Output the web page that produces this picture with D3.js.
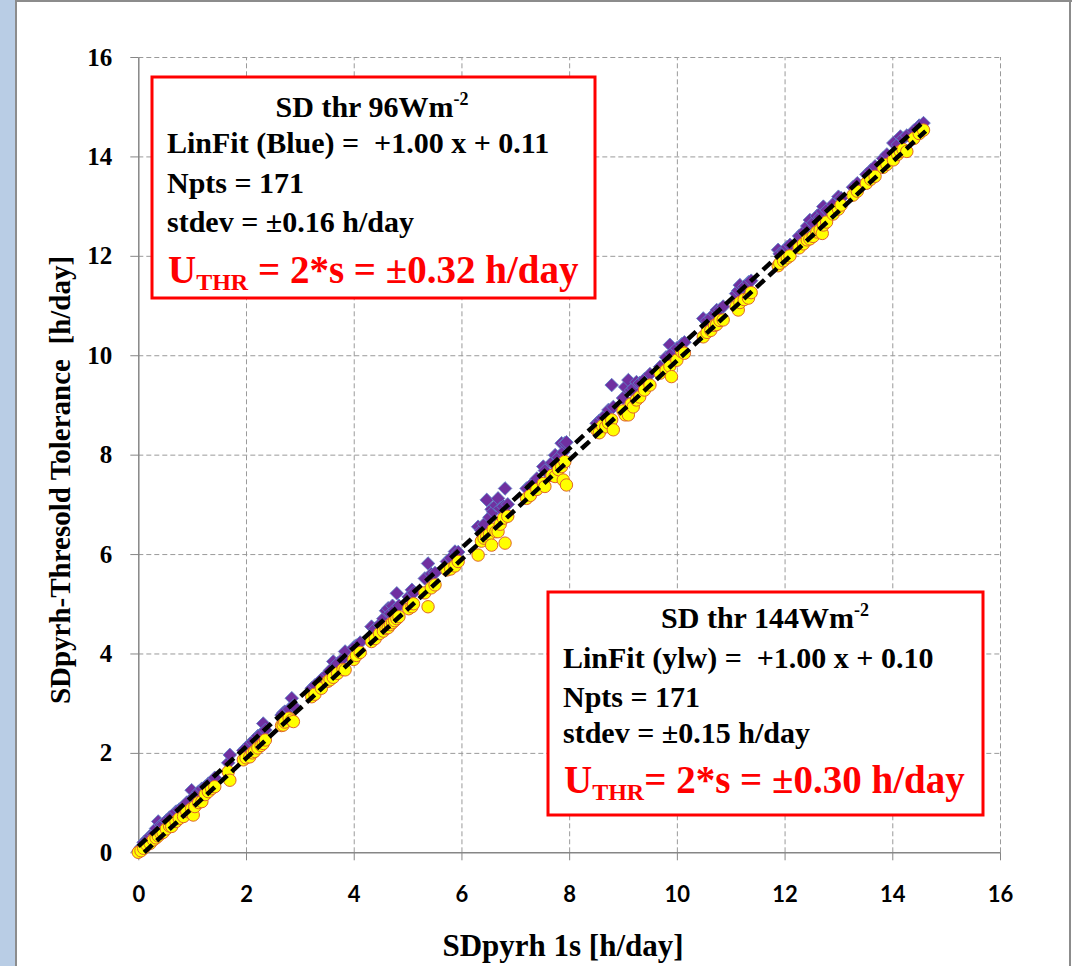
<!DOCTYPE html>
<html>
<head>
<meta charset="utf-8">
<script src="https://cdn.jsdelivr.net/npm/d3@7"></script>
<style>
  body { margin: 0; background: #fff; }
  svg text { white-space: pre; }
  .serif { font-family: "Palatino Linotype", "Book Antiqua", "Liberation Serif", serif; font-weight: bold; }
  .sans { font-family: Lato, "Open Sans", sans-serif; font-weight: bold; }
</style>
</head>
<body>
<div id="chart"></div>
<script>
// x = SDpyrh 1s [h/day], shared by both series
const xVals = [0.00, 0.05, 0.10, 0.16, 0.22, 0.28, 0.33, 0.37, 0.42, 0.46, 0.52, 0.58, 0.62, 0.70, 0.76,
  0.84, 0.90, 0.99, 1.02, 1.05, 1.12, 1.18, 1.24, 1.30, 1.36, 1.42, 1.67, 1.70, 1.95, 2.00,
  2.07, 2.12, 2.16, 2.22, 2.28, 2.32, 2.36, 2.66, 2.69, 2.72, 2.80, 2.85, 2.88, 3.22, 3.28,
  3.40, 3.52, 3.56, 3.62, 3.70, 3.80, 3.84, 4.00, 4.05, 4.12, 4.33, 4.40, 4.48, 4.55, 4.60,
  4.64, 4.68, 4.72, 4.76, 4.80, 4.84, 5.02, 5.08, 5.11, 5.32, 5.38, 5.44, 5.51, 5.73, 5.80,
  5.88, 5.94, 6.31, 6.37, 6.42, 6.47, 6.52, 6.56, 6.59, 6.64, 6.68, 6.72, 6.78, 6.81, 6.86,
  7.21, 7.28, 7.40, 7.52, 7.55, 7.68, 7.74, 7.80, 7.86, 7.89, 7.92, 7.95, 8.51, 8.56, 8.62,
  8.68, 8.73, 8.79, 8.82, 9.00, 9.04, 9.10, 9.15, 9.19, 9.25, 9.31, 9.40, 9.50, 9.69, 9.80,
  9.87, 9.90, 10.00, 10.09, 10.14, 10.49, 10.56, 10.63, 10.70, 10.74, 10.80, 10.86, 11.10, 11.14, 11.17,
  11.25, 11.33, 11.38, 11.88, 11.91, 11.98, 12.05, 12.10, 12.27, 12.35, 12.42, 12.47, 12.53, 12.60, 12.66,
  12.70, 12.72, 12.78, 12.90, 13.00, 13.05, 13.27, 13.35, 13.52, 13.60, 13.68, 13.83, 13.90, 14.02, 14.10,
  14.15, 14.20, 14.27, 14.40, 14.50, 14.58];

// SD thr 96 Wm-2 (blue diamonds)
const blueVals = [0.02, 0.10, 0.20, 0.24, 0.33, 0.36, 0.48, 0.62, 0.55, 0.56, 0.64, 0.70, 0.72, 0.82, 0.86,
  0.93, 1.00, 1.25, 1.10, 1.14, 1.22, 1.28, 1.32, 1.38, 1.42, 1.50, 1.80, 1.96, 2.05, 2.10,
  2.18, 2.22, 2.27, 2.34, 2.38, 2.59, 2.46, 2.76, 2.80, 2.83, 2.88, 3.10, 2.95, 3.30, 3.36,
  3.48, 3.60, 3.66, 3.84, 3.80, 3.90, 4.04, 4.12, 4.16, 4.22, 4.54, 4.50, 4.58, 4.70, 4.86,
  4.91, 4.80, 4.96, 4.88, 5.21, 4.96, 5.14, 5.28, 5.22, 5.51, 5.81, 5.60, 5.62, 5.85, 5.92,
  6.05, 6.04, 6.55, 6.48, 6.60, 7.09, 6.74, 6.90, 6.85, 6.98, 7.12, 6.92, 6.96, 7.32, 7.00,
  7.32, 7.38, 7.52, 7.76, 7.68, 7.84, 7.99, 7.94, 8.23, 8.05, 8.23, 8.25, 8.63, 8.68, 8.74,
  8.80, 8.90, 9.40, 8.96, 9.14, 9.36, 9.50, 9.30, 9.34, 9.46, 9.44, 9.52, 9.62, 9.77, 9.96,
  10.21, 10.04, 10.14, 10.22, 10.26, 10.74, 10.70, 10.76, 10.84, 10.91, 10.92, 10.98, 11.24, 11.30, 11.41,
  11.38, 11.47, 11.50, 12.12, 12.04, 12.08, 12.18, 12.22, 12.40, 12.48, 12.60, 12.72, 12.66, 12.80, 12.78,
  12.90, 12.99, 12.92, 13.04, 13.19, 13.16, 13.38, 13.46, 13.64, 13.72, 13.80, 13.96, 14.04, 14.27, 14.24,
  14.40, 14.36, 14.42, 14.52, 14.62, 14.67];

// SD thr 144 Wm-2 (yellow circles)
const ylwVals = [0.00, 0.03, 0.08, 0.15, 0.18, 0.25, 0.29, 0.33, 0.38, 0.40, 0.47, 0.53, 0.52, 0.62, 0.68,
  0.72, 0.82, 0.88, 0.75, 0.92, 1.00, 1.02, 1.16, 1.22, 1.28, 1.32, 1.62, 1.45, 1.86, 1.90,
  1.92, 2.00, 2.03, 2.10, 2.15, 2.19, 2.26, 2.55, 2.56, 2.62, 2.70, 2.66, 2.63, 3.13, 3.18,
  3.30, 3.44, 3.47, 3.52, 3.60, 3.68, 3.67, 3.88, 3.96, 4.02, 4.24, 4.30, 4.40, 4.45, 4.50,
  4.52, 4.58, 4.62, 4.66, 4.70, 4.74, 4.90, 4.94, 5.00, 5.22, 4.94, 5.32, 5.38, 5.68, 5.70,
  5.76, 5.85, 5.98, 6.26, 6.32, 6.36, 6.40, 6.18, 6.50, 6.45, 6.45, 6.60, 6.72, 6.22, 6.76,
  7.12, 7.18, 7.30, 7.42, 7.36, 7.58, 7.56, 7.70, 7.76, 7.49, 7.86, 7.39, 8.50, 8.44, 8.58,
  8.56, 8.64, 8.70, 8.50, 8.88, 8.80, 8.80, 9.02, 8.96, 9.10, 9.16, 9.30, 9.40, 9.64, 9.70,
  9.78, 9.57, 9.90, 10.07, 10.04, 10.37, 10.46, 10.50, 10.60, 10.62, 10.70, 10.71, 10.98, 10.91, 11.06,
  11.12, 11.15, 11.26, 11.80, 11.85, 11.90, 11.96, 12.00, 12.16, 12.24, 12.32, 12.34, 12.39, 12.48, 12.52,
  12.45, 12.62, 12.68, 12.84, 12.94, 13.02, 13.22, 13.30, 13.46, 13.54, 13.60, 13.78, 13.84, 13.93, 14.04,
  14.10, 14.14, 14.10, 14.36, 14.46, 14.53];

// dashed fit lines as drawn: [slope, intercept, xStart, xEnd]
const fitBlue = [1.00, 0.12, 0.0, 14.55];
const fitYlw = [1.00, -0.11, 0.11, 14.62];

const ticks = [0, 2, 4, 6, 8, 10, 12, 14, 16];

const box1Lines = ["LinFit (Blue) =  +1.00 x + 0.11", "Npts = 171", "stdev = \u00b10.16 h/day"];
const box2Lines = ["LinFit (ylw) =  +1.00 x + 0.10", "Npts = 171", "stdev = \u00b10.15 h/day"];

const W = 1072, H = 966;

const svg = d3.select("#chart").append("svg")
    .attr("width", W)
    .attr("height", H);

// window frame
svg.append("rect").attr("x", 0).attr("y", 0).attr("width", 15).attr("height", H).attr("fill", "#b9cde5");
svg.append("rect").attr("x", 15).attr("y", 0).attr("width", 2).attr("height", H).attr("fill", "#8c8c8c");
svg.append("rect").attr("x", 15).attr("y", 0).attr("width", W - 15).attr("height", 2).attr("fill", "#8c8c8c");
svg.append("rect").attr("x", 1069).attr("y", 0).attr("width", 2).attr("height", H).attr("fill", "#8c8c8c");

const x = d3.scaleLinear().domain([0, 16]).range([138.3, 1000]);
const y = d3.scaleLinear().domain([0, 16]).range([852.3, 57]);

// grid
svg.append("g")
    .attr("class", "grid")
    .attr("transform", "translate(0," + y(0) + ")")
    .call(d3.axisBottom(x).tickValues(ticks.slice(1)).tickSize(-(y(0) - y(16))).tickFormat(""))
    .call(g => g.select(".domain").remove())
    .call(g => g.selectAll("line").attr("stroke", "#9a9a9a").attr("stroke-dasharray", "5,3"));

svg.append("g")
    .attr("class", "grid")
    .attr("transform", "translate(" + x(0) + ",0)")
    .call(d3.axisLeft(y).tickValues(ticks.slice(1)).tickSize(-(x(16) - x(0))).tickFormat(""))
    .call(g => g.select(".domain").remove())
    .call(g => g.selectAll("line").attr("stroke", "#9a9a9a").attr("stroke-dasharray", "5,3"));

// axes
const xAxis = svg.append("g")
    .attr("transform", "translate(0," + y(0) + ")")
    .call(d3.axisBottom(x).tickValues(ticks).tickSize(8).tickSizeOuter(0).tickPadding(26).tickFormat(d3.format("d")));
xAxis.select(".domain").attr("stroke", "#868686").attr("stroke-width", 1.5);
xAxis.selectAll("line").attr("stroke", "#868686");
xAxis.selectAll("text").attr("class", "sans").attr("font-size", 22).attr("fill", "#000");

const yAxis = svg.append("g")
    .attr("transform", "translate(" + x(0) + ",0)")
    .call(d3.axisLeft(y).tickValues(ticks).tickSize(8).tickSizeOuter(0).tickPadding(18).tickFormat(d3.format("d")));
yAxis.select(".domain").attr("stroke", "#868686").attr("stroke-width", 1.5);
yAxis.selectAll("line").attr("stroke", "#868686");
yAxis.selectAll("text").attr("class", "serif").attr("font-size", 25).attr("fill", "#000");

// data
const pts = xVals.map((v, i) => ({ x: v, b: blueVals[i], yl: ylwVals[i] }));

svg.append("g").selectAll("path")
    .data(pts)
    .join("path")
    .attr("d", d3.symbol(d3.symbolSquare, 92))
    .attr("transform", d => "translate(" + x(d.x) + "," + y(d.b) + ") rotate(45)")
    .attr("fill", "#7030a0")
    .attr("stroke", "#5b82c8")
    .attr("stroke-width", 0.8);

svg.append("g").selectAll("circle")
    .data(pts)
    .join("circle")
    .attr("cx", d => x(d.x))
    .attr("cy", d => y(d.yl))
    .attr("r", 6.2)
    .attr("fill", "#ffff00")
    .attr("stroke", "#e0642a")
    .attr("stroke-width", 1);

// fit lines
[fitBlue, fitYlw].forEach(f => {
    svg.append("line")
        .attr("x1", x(f[2])).attr("y1", y(f[0] * f[2] + f[1]))
        .attr("x2", x(f[3])).attr("y2", y(f[0] * f[3] + f[1]))
        .attr("stroke", "#000")
        .attr("stroke-width", 4.5)
        .attr("stroke-dasharray", "11,6");
});

// axis titles
svg.append("text")
    .attr("class", "serif")
    .attr("x", 563).attr("y", 956)
    .attr("text-anchor", "middle")
    .attr("font-size", 31)
    .text("SDpyrh 1s [h/day]");

svg.append("text")
    .attr("class", "serif")
    .attr("transform", "translate(70,480) rotate(-90)")
    .attr("text-anchor", "middle")
    .attr("font-size", 29)
    .text("SDpyrh-Thresold Tolerance  [h/day]");

// annotation boxes
function drawBox(bx, by, bw, bh, thr, lines, uVal, cx, baselines, tight) {
    const g = svg.append("g");
    g.append("rect")
        .attr("x", bx).attr("y", by).attr("width", bw).attr("height", bh)
        .attr("fill", "#fff").attr("stroke", "#ff0000").attr("stroke-width", 3);

    const t = g.append("text").attr("class", "serif").attr("font-size", 30)
        .attr("x", cx).attr("y", baselines[0]).attr("text-anchor", "middle");
    t.append("tspan").text("SD thr " + thr + "Wm");
    t.append("tspan").attr("font-size", 18).attr("dy", -12).text("-2");

    lines.forEach((l, i) => {
        g.append("text").attr("class", "serif").attr("font-size", 30)
            .attr("x", bx + 15).attr("y", baselines[i + 1])
            .text(l);
    });

    const u = g.append("text").attr("class", "serif").attr("font-size", 39).attr("fill", "#ff0000")
        .attr("x", bx + 16).attr("y", baselines[4]);
    u.append("tspan").text("U");
    u.append("tspan").attr("font-size", 24).attr("dy", 7).text("THR");
    u.append("tspan").attr("dy", -7).text((tight ? "= " : " = ") + "2*s = \u00b1" + uVal + " h/day");
}

drawBox(152, 77, 443, 221, "96", box1Lines, "0.32", 372, [117, 153, 193, 232, 283], false);
drawBox(548, 592, 435, 223, "144", box2Lines, "0.30", 765, [628, 668, 707, 743, 793], true);
</script>
</body>
</html>
